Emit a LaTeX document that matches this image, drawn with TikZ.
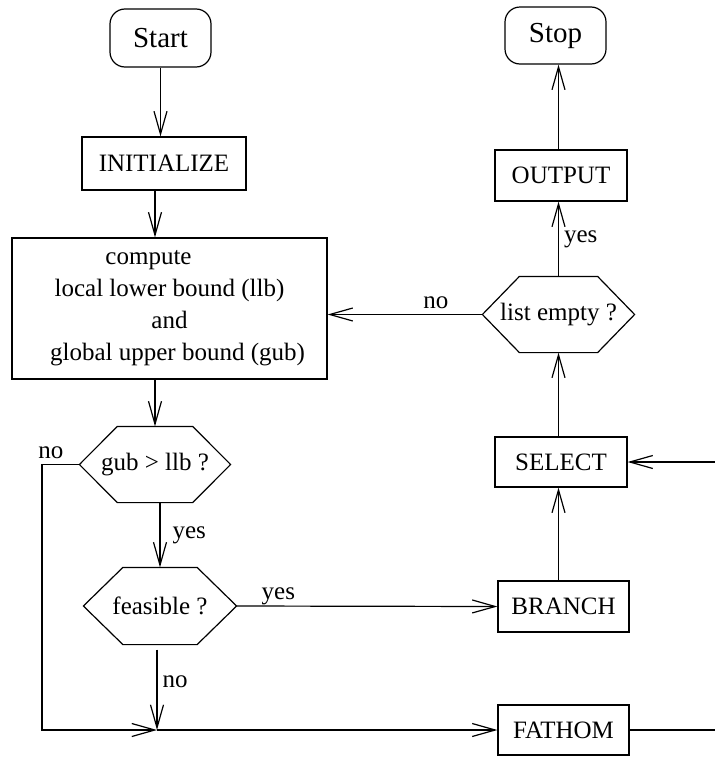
\documentclass[tikz,border=0pt]{standalone}
\usepackage{fontspec}
\setmainfont{Liberation Serif}
\usetikzlibrary{arrows.meta}
\newcommand{\hexframe}[2]{\draw (#1.west) -- ([xshift=#2]#1.north west) -- ([xshift=-#2]#1.north east)
	-- (#1.east) -- ([xshift=-#2]#1.south east) -- ([xshift=#2]#1.south west) -- cycle;}

\begin{document}
\begin{tikzpicture}[x=1pt,y=-1pt,line width=1.2pt,line join=miter,
				every node/.style={font=\fontsize{25}{32}\selectfont,inner sep=0pt},
				box/.style={draw,rectangle},
				term/.style={draw,rectangle,rounded corners=15pt,font=\fontsize{29}{34}\selectfont},
				test/.style={rectangle},
				lbl/.style={inner sep=5pt},
				arr/.style={-{Straight Barb[length=23pt,width=13pt]}}]
\useasboundingbox (0,0) rectangle (715,758);
\node[term,minimum width=101pt,minimum height=58pt] (start) at (160.5,38) {Start};
\node[box,minimum width=164pt,minimum height=53pt] (init) at (164,163.5) {INITIALIZE};
\node[box,minimum width=315pt,minimum height=141pt,align=center] (big) at (169.5,308.5)
	{compute\hspace*{42pt}\\local lower bound (llb)\\and\hspace*{56pt}\\\hspace*{16pt}global upper bound (gub)};
\node[test,minimum width=150pt,minimum height=75pt] (gub) at (155,464.5) {gub > llb ?};
\node[test,minimum width=152pt,minimum height=76pt] (feas) at (160,606) {feasible ?};
\node[term,minimum width=101pt,minimum height=57pt] (stop) at (555.5,35.5) {Stop};
\node[box,minimum width=132pt,minimum height=51pt] (output) at (561,175.5) {OUTPUT};
\node[test,minimum width=151pt,minimum height=75pt] (list) at (558.5,314.5) {list empty ?};
\node[box,minimum width=132pt,minimum height=50pt] (select) at (561,462) {SELECT};
\node[box,minimum width=131pt,minimum height=51pt] (branch) at (563.5,606.5) {BRANCH};
\node[box,minimum width=131pt,minimum height=50pt] (fathom) at (563.5,730) {FATHOM};
\hexframe{gub}{38pt}
\hexframe{feas}{39.5pt}
\hexframe{list}{37pt}
\coordinate (j) at (157,730);
\coordinate (c) at (42,730);
\coordinate (fr) at (715,730);
\coordinate (sr) at (715,462);

\draw[arr] (start.south) -- (start.south |- init.north);
\draw[arr] (init.south -| gub) -- (big.north -| gub);
\draw[arr] (big.south -| gub) -- (gub.north);
\draw[arr] (gub.south -| feas) -- (feas.north) node[lbl,midway,right,xshift=7pt] {yes};
\draw[arr] ([yshift=-5pt]feas.south -| j) -- (j) node[lbl,pos=0.4,right] {no};
\draw[arr] (gub.west) -| (c) node[lbl,pos=0.38,above] {no} -- (j);
\draw[arr] (j) -- (j -| fathom.west);
\draw (fathom.east) -- (fr);
\draw[arr] (sr) -- (select.east);
\draw[arr] (feas.east) -- (branch.west) node[lbl,pos=0.16,above,yshift=-4pt] {yes};
\draw[arr] (branch.north -| list) -- (select.south -| list);
\draw[arr] (select.north -| list) -- (list.south);
\draw[arr] (list.north) -- (output.south -| list) node[lbl,midway,right] {yes};
\draw[arr] (output.north -| list) -- (stop.south -| list);
\draw[arr] (list.west) -- (list.west -| big.east) node[lbl,pos=0.3,above] {no};
\end{tikzpicture}
\end{document}
